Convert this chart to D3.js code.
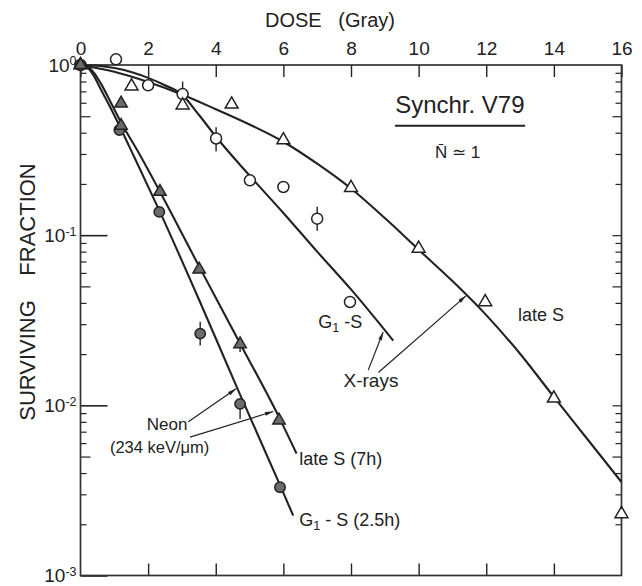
<!DOCTYPE html>
<html><head><meta charset="utf-8">
<script src="https://cdn.jsdelivr.net/npm/d3@7"></script>
<style>
html,body{margin:0;padding:0;background:#fff;}
svg{display:block;font-family:"Liberation Sans",Arial,sans-serif;}
</style></head><body>
<svg id="chart" width="642" height="586"></svg>
<script>
// ---- axis ticks -------------------------------------------------------
const doseTicks = [0, 2, 4, 6, 8, 10, 12, 14, 16];
const decades = [1e-3, 1e-2, 1e-1, 1];
const decadeExponents = ["-3", "-2", "-1", "0"];
const minorMantissas = [2, 3, 4, 6, 7, 8, 9];
const midMantissas = [5];

// ---- X-rays, G1-S (open circles) --------------------------------------
const xrayG1SDose = [0, 1.05, 2.0, 3.02, 4.01, 5.01, 6.0, 7.0, 7.97];
const xrayG1SSurv = [1.0, 1.08, 0.76, 0.675, 0.37, 0.21, 0.192, 0.125, 0.0405];
const xrayG1SErr  = [null, null, null, [0.63, 0.80], [0.31, 0.43], null, null, [0.106, 0.147], null];
const xrayG1SCurveDose = [0, 0.5, 1, 1.5, 2, 2.5, 3, 3.5, 4, 5, 6, 7, 8, 9.25];
const xrayG1SCurveSurv = [1, 0.99, 0.96, 0.91, 0.84, 0.76, 0.67, 0.51, 0.38, 0.224, 0.135, 0.08, 0.048, 0.024];

// ---- X-rays, late S (open triangles) ----------------------------------
const xrayLateSDose = [0, 1.51, 3.02, 4.47, 6.0, 8.0, 10.0, 11.97, 14.0, 16.0];
const xrayLateSSurv = [1.0, 0.75, 0.58, 0.587, 0.362, 0.19, 0.0835, 0.0405, 0.011, 0.0023];
const xrayLateSCurveDose = [0, 1, 2, 3, 4, 5, 6, 7, 8, 9, 10, 11, 12, 13, 14, 15, 16];
const xrayLateSCurveSurv = [1, 0.912, 0.794, 0.671, 0.55, 0.447, 0.354, 0.263, 0.188, 0.126, 0.0822, 0.0537, 0.0339, 0.0201, 0.0112, 0.0063, 0.00354];

// ---- Neon, G1-S 2.5 h (filled circles) --------------------------------
const neonG1SDose = [0, 1.15, 2.33, 3.54, 4.72, 5.9];
const neonG1SSurv = [1.0, 0.415, 0.137, 0.0264, 0.0102, 0.0033];
const neonG1SErr  = [null, null, null, [0.0225, 0.031], [0.0083, 0.0102], null];
const neonG1SCurveDose = [0, 0.2, 0.4, 0.6, 0.85, 1.15, 1.6, 2.35, 3.5, 4.7, 5.9, 6.29];
const neonG1SCurveSurv = [1, 0.97, 0.86, 0.72, 0.58, 0.44, 0.285, 0.137, 0.042, 0.0118, 0.0034, 0.00225];

// ---- Neon, late S 7 h (filled triangles) ------------------------------
const neonLateSDose = [0, 1.2, 1.2, 2.35, 3.51, 4.72, 5.87];
const neonLateSSurv = [1.0, 0.595, 0.44, 0.18, 0.0629, 0.0229, 0.00816];
const neonLateSErr  = [null, null, null, null, null, [0.0206, 0.0229], null];
const neonLateSCurveDose = [0, 0.2, 0.4, 0.6, 0.9, 1.2, 1.7, 2.35, 3.5, 4.7, 5.9, 6.39];
const neonLateSCurveSurv = [1, 0.98, 0.9, 0.78, 0.6, 0.46, 0.31, 0.18, 0.066, 0.0235, 0.0083, 0.0052];

// ---- layout -------------------------------------------------------------
const W = 642, H = 586;
const m = {top: 65, right: 20.5, bottom: 10.5, left: 80.5};
const ink = "#222";
const svg = d3.select("#chart");

const x = d3.scaleLinear().domain([0, 16]).range([m.left, W - m.right]);
const y = d3.scaleLog().domain([1e-3, 1]).range([H - m.bottom, m.top]);

const zip = (a, b, e) => a.map((d, i) => ({dose: d, surv: b[i], err: e ? e[i] : null}));

const minorVals = decades.slice(0, 3).flatMap(d => minorMantissas.map(k => k * d));
const midVals = decades.slice(0, 3).flatMap(d => midMantissas.map(k => k * d));

function styleTicks(g, w) {
  g.select(".domain").remove();
  g.selectAll(".tick line").attr("stroke", ink).attr("stroke-width", w || 1.4);
}

// top dose axis with labels
svg.append("g").attr("transform", `translate(0,${m.top})`)
  .call(d3.axisTop(x).tickValues(doseTicks).tickSizeInner(-12).tickSizeOuter(0)
    .tickPadding(10).tickFormat(d3.format("d")))
  .call(g => styleTicks(g))
  .call(g => g.selectAll("text").attr("font-size", 19).attr("fill", ink));

// bottom dose axis, ticks only
svg.append("g").attr("transform", `translate(0,${H - m.bottom})`)
  .call(d3.axisBottom(x).tickValues(doseTicks.slice(1, -1)).tickSizeInner(-12).tickSizeOuter(0).tickFormat(""))
  .call(g => styleTicks(g));

// left log axis: decades with power-of-ten labels
const leftMajor = svg.append("g").attr("transform", `translate(${m.left},0)`)
  .call(d3.axisLeft(y).tickValues(decades).tickSizeInner(-27).tickSizeOuter(0).tickPadding(4).tickFormat(() => ""))
  .call(g => styleTicks(g, 1.6));
leftMajor.selectAll(".tick text").each(function(d, i) {
  const t = d3.select(this).attr("font-size", 19).attr("fill", ink);
  t.append("tspan").text("10");
  t.append("tspan").attr("dy", "-0.5em").attr("font-size", 12.5).text(decadeExponents[i]);
});
svg.append("g").attr("transform", `translate(${m.left},0)`)
  .call(d3.axisLeft(y).tickValues(minorVals).tickSizeInner(-6).tickSizeOuter(0).tickFormat(""))
  .call(g => styleTicks(g, 1.2));
svg.append("g").attr("transform", `translate(${m.left},0)`)
  .call(d3.axisLeft(y).tickValues(midVals).tickSizeInner(-10).tickSizeOuter(0).tickFormat(""))
  .call(g => styleTicks(g, 1.2));

// right log axis, ticks only
svg.append("g").attr("transform", `translate(${W - m.right},0)`)
  .call(d3.axisRight(y).tickValues(minorVals).tickSizeInner(-6).tickSizeOuter(0).tickFormat(""))
  .call(g => styleTicks(g, 1.2));
svg.append("g").attr("transform", `translate(${W - m.right},0)`)
  .call(d3.axisRight(y).tickValues(midVals.concat(decades.slice(1, 3))).tickSizeInner(-9).tickSizeOuter(0).tickFormat(""))
  .call(g => styleTicks(g, 1.2));

// plot frame
svg.append("rect")
  .attr("x", m.left).attr("y", m.top)
  .attr("width", W - m.left - m.right).attr("height", H - m.top - m.bottom)
  .attr("fill", "none").attr("stroke", "#333").attr("stroke-width", 1.7);

// axis titles
svg.append("text").attr("x", 330).attr("y", 27).attr("text-anchor", "middle")
  .attr("font-size", 20).attr("fill", ink).style("white-space", "pre")
  .text("DOSE   (Gray)");
svg.append("text").attr("transform", "translate(35,292) rotate(-90)").attr("text-anchor", "middle")
  .attr("font-size", 22).attr("fill", ink).style("white-space", "pre")
  .text("SURVIVING    FRACTION");

// ---- fitted curves ------------------------------------------------------
const line = d3.line().x(d => x(d.dose)).y(d => y(d.surv)).curve(d3.curveMonotoneX);
const curves = [
  zip(xrayG1SCurveDose, xrayG1SCurveSurv),
  zip(xrayLateSCurveDose, xrayLateSCurveSurv),
  zip(neonG1SCurveDose, neonG1SCurveSurv),
  zip(neonLateSCurveDose, neonLateSCurveSurv)
];
svg.append("g").selectAll("path").data(curves).join("path")
  .attr("d", line).attr("fill", "none").attr("stroke", ink).attr("stroke-width", 2.1)
  .attr("stroke-linejoin", "round");

// ---- data points --------------------------------------------------------
const series = [
  {pts: zip(xrayG1SDose, xrayG1SSurv, xrayG1SErr), shape: d3.symbolCircle, size: 95, fill: "#fff"},
  {pts: zip(xrayLateSDose, xrayLateSSurv), shape: d3.symbolTriangle, size: 72, fill: "#fff"},
  {pts: zip(neonG1SDose, neonG1SSurv, neonG1SErr), shape: d3.symbolCircle, size: 85, fill: "#6b6b6b"},
  {pts: zip(neonLateSDose, neonLateSSurv, neonLateSErr), shape: d3.symbolTriangle, size: 66, fill: "#6b6b6b"}
];
series.forEach(s => {
  const g = svg.append("g");
  g.selectAll("line").data(s.pts.filter(p => p.err)).join("line")
    .attr("x1", p => x(p.dose)).attr("x2", p => x(p.dose))
    .attr("y1", p => y(p.err[0])).attr("y2", p => y(p.err[1]))
    .attr("stroke", ink).attr("stroke-width", 1.4);
  g.selectAll("path").data(s.pts).join("path")
    .attr("transform", p => `translate(${x(p.dose)},${y(p.surv)})`)
    .attr("d", d3.symbol().type(s.shape).size(s.size))
    .attr("fill", s.fill).attr("stroke", ink).attr("stroke-width", 1.5);
});

// ---- annotations --------------------------------------------------------
svg.append("defs").append("marker")
  .attr("id", "head").attr("viewBox", "0 0 10 6").attr("refX", 10).attr("refY", 3)
  .attr("markerWidth", 9).attr("markerHeight", 5).attr("markerUnits", "userSpaceOnUse")
  .attr("orient", "auto")
  .append("path").attr("d", "M0,0.6L10,3L0,5.4Z").attr("fill", ink);

const arrows = [
  {from: [8.51, 0.0161], to: [8.95, 0.027]},
  {from: [8.81, 0.0156], to: [11.4, 0.044]},
  {from: [3.19, 0.0080], to: [4.6, 0.0125]},
  {from: [3.24, 0.0065], to: [5.7, 0.0092]}
];
svg.append("g").selectAll("line").data(arrows).join("line")
  .attr("x1", a => x(a.from[0])).attr("y1", a => y(a.from[1]))
  .attr("x2", a => x(a.to[0])).attr("y2", a => y(a.to[1]))
  .attr("stroke", ink).attr("stroke-width", 1.2).attr("marker-end", "url(#head)");

const labels = [
  {parts: [["G"], ["1", "sub"], [" -S"]], at: [7.03, 0.031], size: 18},
  {parts: [["X-rays"]], at: [7.78, 0.014], size: 19},
  {parts: [["late S"]], at: [12.94, 0.034], size: 18},
  {parts: [["Neon"]], at: [1.96, 0.0078], size: 17},
  {parts: [["(234 keV/\u03bcm)"]], at: [0.87, 0.0057], size: 16.5},
  {parts: [["late S (7h)"]], at: [6.47, 0.0049], size: 18},
  {parts: [["G"], ["1", "sub"], [" - S (2.5h)"]], at: [6.47, 0.00214], size: 18},
  {parts: [["N\u0304 \u2243 1"]], at: [11.15, 0.31], size: 17, anchor: "middle"},
  {parts: [["Synchr. V79"]], at: [11.22, 0.59], size: 24, anchor: "middle"}
];
labels.forEach(l => {
  const t = svg.append("text")
    .attr("x", x(l.at[0])).attr("y", y(l.at[1])).attr("dy", "0.36em")
    .attr("font-size", l.size).attr("fill", ink).attr("text-anchor", l.anchor || "start")
    .style("white-space", "pre");
  l.parts.forEach(([s, kind]) => {
    const sp = t.append("tspan").text(s);
    if (kind === "sub") sp.attr("font-size", l.size * 0.7).attr("dy", "0.3em");
    else if (t.selectAll("tspan").size() > 1) sp.attr("dy", "-0.21em");
  });
});

// underline beneath the cell line name
svg.append("line")
  .attr("x1", x(9.3)).attr("x2", x(13.15))
  .attr("y1", y(0.44)).attr("y2", y(0.44))
  .attr("stroke", ink).attr("stroke-width", 2);
</script>
</body></html>
